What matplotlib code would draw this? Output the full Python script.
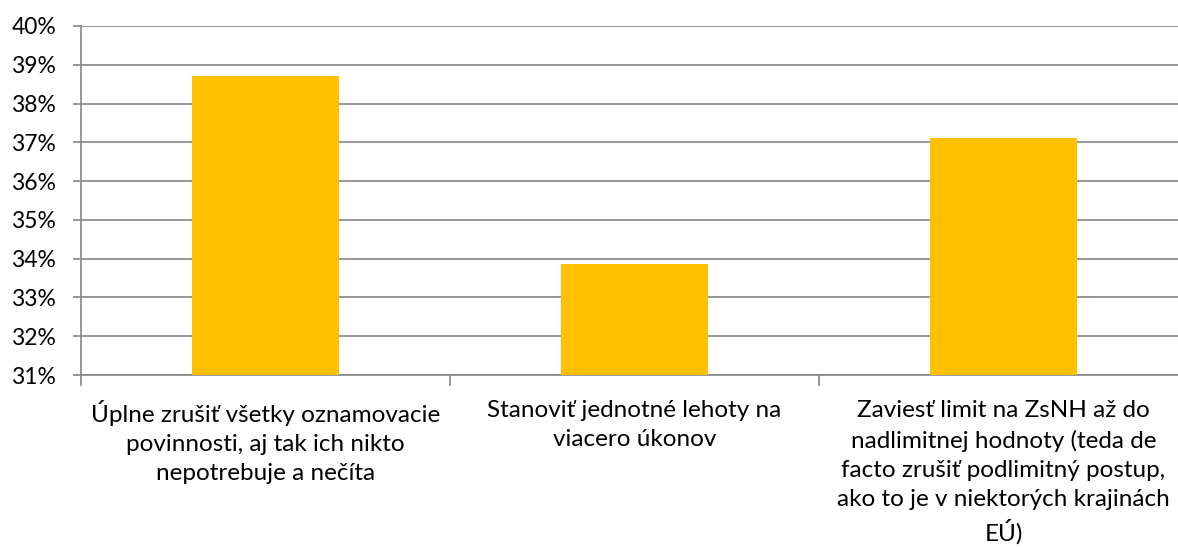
import numpy as np
import matplotlib
matplotlib.use('Agg')
import matplotlib.pyplot as plt
from matplotlib.ticker import FuncFormatter

categories = [
    'Úplne zrušiť všetky oznamovacie\npovinnosti, aj tak ich nikto\nnepotrebuje a nečíta',
    'Stanoviť jednotné lehoty na\nviacero úkonov',
    'Zaviesť limit na ZsNH až do\nnadlimitnej hodnoty (teda de\nfacto zrušiť podlimitný postup,\nako to je v niektorých krajinách\nEÚ)',
]
values = [38.71, 33.87, 37.11]
yticks = list(range(31, 41))

plt.rcParams['font.family'] = ['Lato', 'DejaVu Sans']

fig = plt.figure(figsize=(11.78, 5.48), dpi=100)
ax = fig.add_axes([81 / 1178, 1 - 375 / 548, 1107 / 1178, 349 / 548])

x = np.arange(len(values))
ax.bar(x, values, width=0.4, color='#FFC000', zorder=3)

ax.set_ylim(31, 40)
ax.set_xlim(-0.5, len(values) - 0.5)
ax.set_yticks(yticks)
ax.yaxis.set_major_formatter(FuncFormatter(lambda v, p: '%d%%' % v))
ax.grid(axis='y', color='#868686', linewidth=1.2, zorder=0)

ax.set_xticks(np.arange(len(values) + 1) - 0.5)
ax.set_xticklabels([])
ax.set_xticks(x, minor=True)
ax.set_xticklabels(categories, minor=True, fontsize=17.5, linespacing=1.47, va='top')
ax.tick_params(axis='x', which='major', length=8, color='#868686', width=1.2)
ax.tick_params(axis='x', which='minor', length=0, pad=18)
ax.tick_params(axis='y', length=6, color='#868686', width=1.2, labelsize=16.5, pad=12)

for s in ['top', 'right']:
    ax.spines[s].set_visible(False)
for s in ['left', 'bottom']:
    ax.spines[s].set_color('#868686')
    ax.spines[s].set_linewidth(1.2)

fig.savefig('out.png', dpi=100)
